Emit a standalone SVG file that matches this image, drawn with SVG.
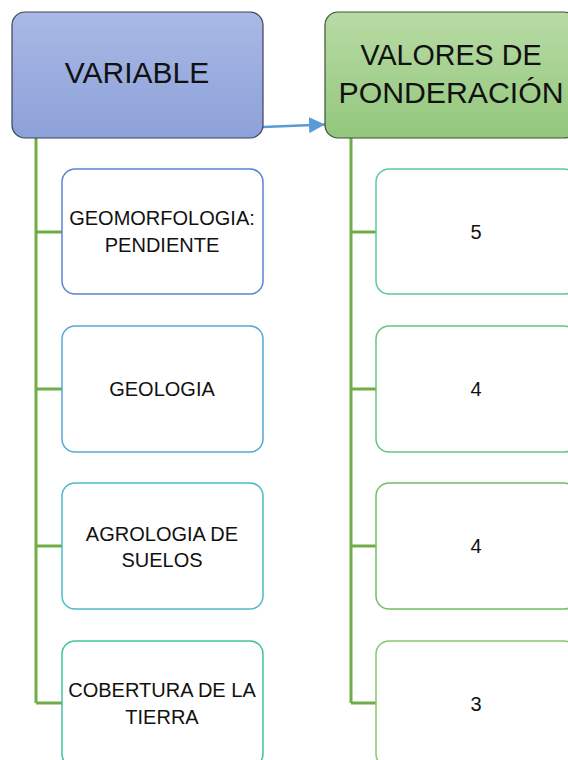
<svg xmlns="http://www.w3.org/2000/svg" width="568" height="760" viewBox="0 0 568 760">
<defs>
<linearGradient id="gBlue" x1="0" y1="0" x2="0" y2="1">
<stop offset="0" stop-color="#aab9e5"/>
<stop offset="1" stop-color="#8ca1d9"/>
</linearGradient>
<linearGradient id="gGreen" x1="0" y1="0" x2="0" y2="1">
<stop offset="0" stop-color="#b8dba5"/>
<stop offset="1" stop-color="#93c77c"/>
</linearGradient>
<marker id="arr" viewBox="0 0 16 16" refX="16" refY="8" markerWidth="16" markerHeight="16" markerUnits="userSpaceOnUse" orient="auto">
<path d="M0,0 L16,8 L0,16 Z" fill="#5b9bd5"/>
</marker>
<style>
.t{font-family:"Liberation Sans",Arial,sans-serif;fill:#111;text-anchor:middle}
.big{font-size:30px}
.sm{font-size:20px}
.child{fill:#fff;stroke-width:1.5}
.trunk{fill:none;stroke:#70ad47;stroke-width:3}
</style>
</defs>
<rect width="568" height="760" fill="#fff"/>
<g id="connectors">
<path class="trunk" d="M36,138 V703 M36,232 H62 M36,389 H62 M36,546 H62 M36,703 H62"/>
<path class="trunk" d="M351,138 V703 M351,232 H376 M351,389 H376 M351,546 H376 M351,703 H376"/>
<line x1="263" y1="127" x2="325" y2="124.5" stroke="#5b9bd5" stroke-width="2.5" marker-end="url(#arr)"/>
</g>
<g id="variable">
<rect x="12" y="12" width="251" height="126" rx="13" fill="url(#gBlue)" stroke="#3c4257" stroke-width="1.2"/>
<text class="t big" x="137" y="83">VARIABLE</text>
</g>
<g id="valores">
<rect x="325" y="12" width="252" height="126" rx="13" fill="url(#gGreen)" stroke="#3d5233" stroke-width="1.2"/>
<text class="t big" x="451" y="65" textLength="181" lengthAdjust="spacingAndGlyphs">VALORES DE</text>
<text class="t big" x="451" y="103" textLength="225" lengthAdjust="spacingAndGlyphs">PONDERACIÓN</text>
</g>
<g id="geomorfologia">
<rect class="child" x="62" y="169" width="201" height="125" rx="13" stroke="#5b83d2"/>
<text class="t sm" x="162" y="225">GEOMORFOLOGIA:</text>
<text class="t sm" x="162" y="252">PENDIENTE</text>
</g>
<g id="geologia">
<rect class="child" x="62" y="326" width="201" height="126" rx="13" stroke="#5aa6d6"/>
<text class="t sm" x="162" y="396">GEOLOGIA</text>
</g>
<g id="agrologia">
<rect class="child" x="62" y="483" width="201" height="126" rx="13" stroke="#4dbcc8"/>
<text class="t sm" x="162" y="541">AGROLOGIA DE</text>
<text class="t sm" x="162" y="567">SUELOS</text>
</g>
<g id="cobertura">
<rect class="child" x="62" y="641" width="201" height="126" rx="13" stroke="#44c2a3"/>
<text class="t sm" x="162" y="697">COBERTURA DE LA</text>
<text class="t sm" x="162" y="724">TIERRA</text>
</g>
<g id="v5">
<rect class="child" x="376" y="169" width="201" height="125" rx="13" stroke="#5ccb96"/>
<text class="t sm" x="476" y="239">5</text>
</g>
<g id="v4a">
<rect class="child" x="376" y="326" width="201" height="126" rx="13" stroke="#66c57c"/>
<text class="t sm" x="476" y="396">4</text>
</g>
<g id="v4b">
<rect class="child" x="376" y="483" width="201" height="126" rx="13" stroke="#72c064"/>
<text class="t sm" x="476" y="553">4</text>
</g>
<g id="v3">
<rect class="child" x="376" y="641" width="201" height="126" rx="13" stroke="#88c86b"/>
<text class="t sm" x="476" y="711">3</text>
</g>
</svg>
